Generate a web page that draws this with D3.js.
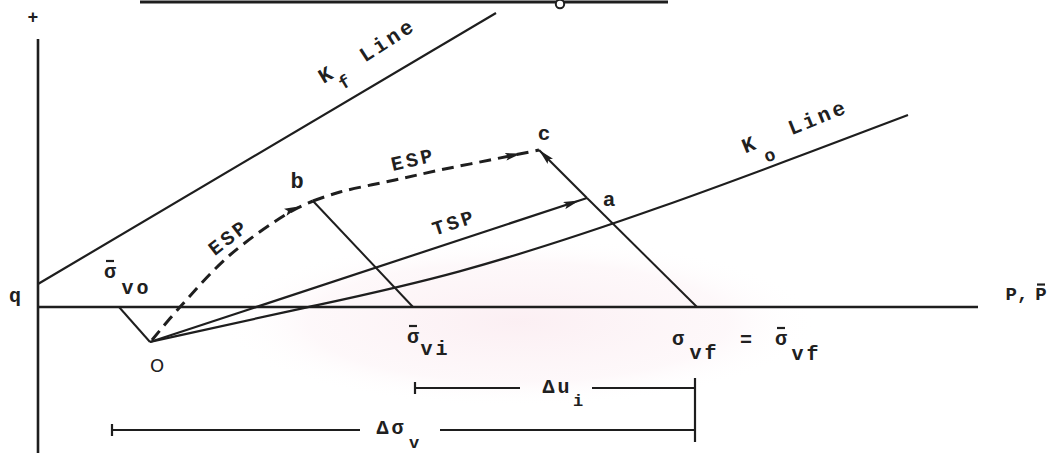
<!DOCTYPE html>
<html>
<head>
<meta charset="utf-8">
<script src="https://cdn.jsdelivr.net/npm/d3@7"></script>
<style>
  html, body { margin: 0; padding: 0; background: #fff; }
  svg { display: block; }
  text { font-family: "Liberation Mono", "DejaVu Sans Mono", monospace; font-weight: bold; fill: #202020; }
</style>
</head>
<body>
<svg id="chart" width="1058" height="453"></svg>
<script>
// Stress-path diagram in (p, q) units
const pAxis = [[0, 0], [94, 0]];
const qAxis = [[0, -14.6], [0, 26.8]];
const kfLine = [[0, 2.3], [45.8, 29.4]];
const koLine = [[11.2, -3.5], [26.9, 0], [41.2, 3.0], [61.2, 9.4], [87.0, 19.2]];
const pointO = [11.2, -3.5];
const pointB = [27.5, 10.6];
const pointA = [54.9, 10.9];
const pointC = [50.1, 15.7];
const sigmaVo = [8.1, 0];
const sigmaVi = [37.5, 0];
const sigmaVf = [65.9, 0];
const espToB = [[11.4, -3.3], [14.2, 0], [19.2, 5.2], [25.2, 9.5], [27.5, 10.6]];
const espToC = [[27.5, 10.6], [30.2, 11.5], [35.7, 12.7], [40.2, 13.7], [45.2, 14.7], [50.1, 15.7]];
const headerRule = [[10.2, 30.5], [63.0, 30.5]];
const headerNode = [52.2, 30.3];
// dimension lines: start, gap start, gap end, end
const duSpan = [37.7, 48.2, 55.4, 65.7];
const duLevel = -8.1;
const dsSpan = [7.4, 32.2, 40.2, 65.7];
const dsLevel = -12.3;
const dimEndTick = [-7.1, -13.5];

const svg = d3.select("#chart");
const x = d3.scaleLinear().domain([0, 94]).range([38, 978]);
const y = d3.scaleLinear().domain([0, 30.7]).range([307, 0]);

const ink = "#1e1e1e";
const straight = d3.line().x(d => x(d[0])).y(d => y(d[1]));
const smooth = d3.line().x(d => x(d[0])).y(d => y(d[1])).curve(d3.curveCatmullRom.alpha(0.5));
const gentle = d3.line().x(d => x(d[0])).y(d => y(d[1])).curve(d3.curveBasis);

// faint background tint
const defs = svg.append("defs");
const grad = defs.append("radialGradient").attr("id", "tint");
grad.append("stop").attr("offset", "0%").attr("stop-color", "#f8dfe7").attr("stop-opacity", 0.5);
grad.append("stop").attr("offset", "70%").attr("stop-color", "#fae8ee").attr("stop-opacity", 0.3);
grad.append("stop").attr("offset", "100%").attr("stop-color", "#fff").attr("stop-opacity", 0);
svg.append("ellipse").attr("cx", x(48)).attr("cy", y(-1.5)).attr("rx", 300).attr("ry", 85).attr("fill", "url(#tint)");

// arrowheads, each set back from its path end by a different amount
function arrow(id, setback) {
  defs.append("marker")
    .attr("id", id)
    .attr("viewBox", "0 -4 16 8")
    .attr("markerUnits", "userSpaceOnUse")
    .attr("markerWidth", 16).attr("markerHeight", 8)
    .attr("refX", 16 + setback).attr("refY", 0)
    .attr("orient", "auto")
    .append("path").attr("d", "M0,-3.8L16,0L0,3.8L3,0Z").attr("fill", ink);
}
arrow("arrTSP", 8);
arrow("arrESP1", 14);
arrow("arrESP2", 18);
arrow("arrAC", 0);

const g = svg.append("g");

// axes
g.append("path").attr("d", straight(pAxis)).attr("stroke", ink).attr("stroke-width", 2.6).attr("fill", "none");
g.append("path").attr("d", straight(qAxis)).attr("stroke", ink).attr("stroke-width", 2.6).attr("fill", "none");

// header rule with node
g.append("path").attr("d", straight(headerRule)).attr("stroke", ink).attr("stroke-width", 3.2).attr("fill", "none");
g.append("circle").attr("cx", x(headerNode[0])).attr("cy", y(headerNode[1])).attr("r", 4.2)
  .attr("fill", "#fff").attr("stroke", ink).attr("stroke-width", 2);

// Kf and Ko lines
g.append("path").attr("d", straight(kfLine)).attr("stroke", ink).attr("stroke-width", 2.2).attr("fill", "none");
g.append("path").attr("d", gentle(koLine)).attr("stroke", ink).attr("stroke-width", 2.2).attr("fill", "none");

// construction lines
g.append("path").attr("d", straight([sigmaVo, pointO])).attr("stroke", ink).attr("stroke-width", 2).attr("fill", "none");
g.append("path").attr("d", straight([pointB, sigmaVi])).attr("stroke", ink).attr("stroke-width", 2).attr("fill", "none");
g.append("path").attr("d", straight([sigmaVf, pointA])).attr("stroke", ink).attr("stroke-width", 2).attr("fill", "none");
g.append("path").attr("d", straight([pointA, pointC])).attr("stroke", ink).attr("stroke-width", 2.2).attr("fill", "none")
  .attr("marker-end", "url(#arrAC)");

// total stress path
g.append("path").attr("d", straight([pointO, pointA])).attr("stroke", ink).attr("stroke-width", 2.2).attr("fill", "none")
  .attr("marker-end", "url(#arrTSP)");

// effective stress path (dashed)
g.append("path").attr("d", smooth(espToB)).attr("stroke", ink).attr("stroke-width", 3).attr("fill", "none")
  .attr("stroke-dasharray", "12 7").attr("marker-end", "url(#arrESP1)");
g.append("path").attr("d", smooth(espToC)).attr("stroke", ink).attr("stroke-width", 3).attr("fill", "none")
  .attr("stroke-dasharray", "12 7").attr("marker-end", "url(#arrESP2)");

// dimension lines
function dimension(span, level) {
  g.append("path").attr("d", straight([[span[0], level], [span[1], level]])).attr("stroke", ink).attr("stroke-width", 2).attr("fill", "none");
  g.append("path").attr("d", straight([[span[2], level], [span[3], level]])).attr("stroke", ink).attr("stroke-width", 2).attr("fill", "none");
  g.append("line").attr("x1", x(span[0])).attr("x2", x(span[0]))
    .attr("y1", y(level) - 6).attr("y2", y(level) + 6).attr("stroke", ink).attr("stroke-width", 2.2);
}
dimension(duSpan, duLevel);
dimension(dsSpan, dsLevel);
g.append("path").attr("d", straight([[duSpan[3], dimEndTick[0]], [duSpan[3], dimEndTick[1]]]))
  .attr("stroke", ink).attr("stroke-width", 2.2).attr("fill", "none");

// text helper: centred at (cx, cy), optional rotation and overbar
function label(str, cx, cy, opts = {}) {
  const size = opts.size || 20;
  const grp = svg.append("g").attr("transform", `translate(${cx},${cy}) rotate(${opts.angle || 0})`);
  const t = grp.append("text")
    .attr("text-anchor", "middle")
    .attr("dominant-baseline", "central")
    .attr("font-size", size)
    .attr("letter-spacing", opts.spacing === undefined ? 3 : opts.spacing)
    .attr("dx", opts.spacing === 0 ? 0 : 1.5)
    .text(str);
  if (opts.family) t.style("font-family", opts.family).style("font-weight", opts.weight || "normal");
  if (opts.bar) {
    grp.append("line").attr("x1", -4).attr("x2", 4).attr("y1", -size * 0.55).attr("y2", -size * 0.55)
      .attr("stroke", "#202020").attr("stroke-width", 2.2);
  }
  return t;
}

label("+", 33, 18, {size: 18, spacing: 0});
label("q", 15, 296, {spacing: 0});
label("P,", 1017, 295, {size: 19, spacing: 0});
label("P", 1041, 295, {size: 19, spacing: 0, bar: true});

// point labels
label("b", x(pointB[0]) - 16, y(pointB[1]) - 19, {size: 22, spacing: 0});
label("c", x(pointC[0]) + 5, y(pointC[1]) - 16, {size: 21, spacing: 0});
label("a", x(pointA[0]) + 22, y(pointA[1]) + 2, {size: 21, spacing: 0});
label("O", x(pointO[0]) + 7, y(pointO[1]) + 23, {family: "DejaVu Sans", size: 18, spacing: 0});

// axis point labels
label("\u03c3", x(sigmaVo[0]) - 9, y(0) - 35, {spacing: 0, bar: true});
label("vo", x(sigmaVo[0]) + 16, y(0) - 19);
label("\u03c3", x(sigmaVi[0]), y(0) + 30, {spacing: 0, bar: true});
label("vi", x(sigmaVi[0]) + 21, y(0) + 42);
label("\u03c3", x(sigmaVf[0]) - 19, y(0) + 32, {spacing: 0});
label("vf", x(sigmaVf[0]) + 6, y(0) + 46);
label("=", x(sigmaVf[0]) + 49, y(0) + 33, {spacing: 0});
label("\u03c3", x(sigmaVf[0]) + 84, y(0) + 32, {spacing: 0, bar: true});
label("vf", x(sigmaVf[0]) + 108, y(0) + 47);

// line labels
label("K", 326, 76, {angle: -31, size: 21, spacing: 0});
label("f", 345, 83, {angle: -31, size: 18, spacing: 0});
label("Line", 387, 42, {angle: -33, size: 21});
label("K", 749, 146, {angle: -22, size: 21, spacing: 0});
label("o", 770, 156, {angle: -22, size: 18, spacing: 0});
label("Line", 817, 119, {angle: -22, size: 21});

// path labels
label("ESP", 228, 239, {angle: -38});
label("ESP", 412, 161, {angle: -13});
label("TSP", 453, 224, {angle: -18});

// dimension labels
label("\u0394u", (x(duSpan[1]) + x(duSpan[2])) / 2, y(duLevel) - 1);
label("i", (x(duSpan[1]) + x(duSpan[2])) / 2 + 22, y(duLevel) + 13, {size: 17, spacing: 0});
label("\u0394\u03c3", (x(dsSpan[1]) + x(dsSpan[2])) / 2 - 10, y(dsLevel) - 2);
label("v", (x(dsSpan[1]) + x(dsSpan[2])) / 2 + 14, y(dsLevel) + 13, {size: 17, spacing: 0});
</script>
</body>
</html>
